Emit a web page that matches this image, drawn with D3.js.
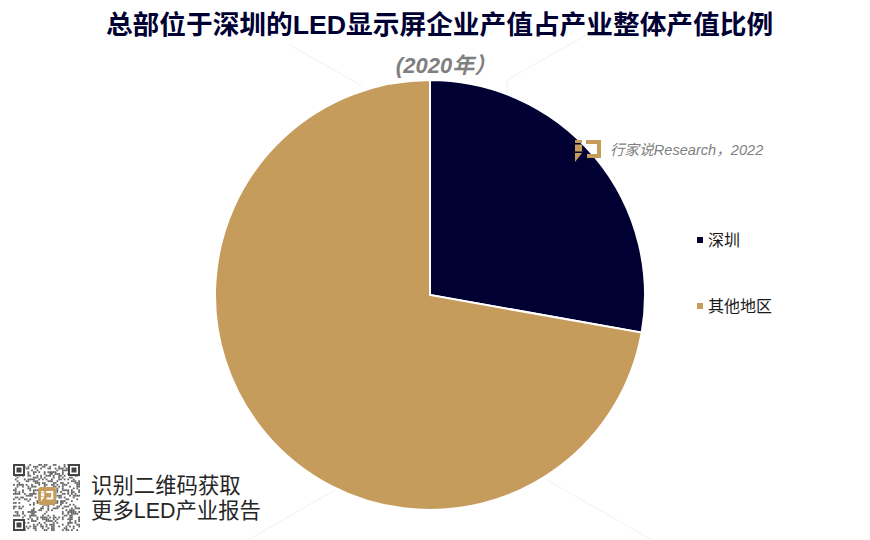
<!DOCTYPE html>
<html>
<head>
<meta charset="utf-8">
<script src="https://cdnjs.cloudflare.com/ajax/libs/d3/7.8.5/d3.min.js"></script>
<style>
    html, body { margin: 0; padding: 0; background: #fff; }
    svg { display: block; }
    text { font-family: "Liberation Sans", "Noto Sans CJK SC", sans-serif; }
</style>
</head>
<body>
<svg id="chart"></svg>
<script>
const categories = ["深圳", "其他地区"];
const shares = [27.8, 72.2];
const sliceColors = ["#000033", "#C69C5D"];
const titleText = "总部位于深圳的LED显示屏企业产值占产业整体产值比例";
const subtitleText = "(2020年）";
const sourceText = "行家说Research，2022";
const qrLines = ["识别二维码获取", "更多LED产业报告"];

const width = 870;
const height = 540;
const svg = d3.select("#chart").attr("width", width).attr("height", height);

const defs = svg.append("defs");
defs.append("filter").attr("id", "soft")
    .append("feGaussianBlur").attr("stdDeviation", 0.35);

// faint watermark lines behind the pie
const watermark = [
    [[290, 45], [362, 86]],
    [[507, 80], [590, 33]],
    [[507, 80], [507, 97]],
    [[248, 540], [335, 490]],
    [[547, 480], [652, 540]]
];
svg.append("g").selectAll("line")
    .data(watermark)
    .enter().append("line")
    .attr("x1", d => d[0][0]).attr("y1", d => d[0][1])
    .attr("x2", d => d[1][0]).attr("y2", d => d[1][1])
    .attr("stroke", "#f0f0f0")
    .attr("stroke-width", 1);

// pie
const pie = d3.pie().sort(null)(shares);
const arc = d3.arc().innerRadius(0).outerRadius(215);
svg.append("g")
    .attr("transform", "translate(430,295)")
    .selectAll("path")
    .data(pie)
    .enter().append("path")
    .attr("d", arc)
    .attr("fill", (d, i) => sliceColors[i])
    .attr("stroke", "#fff")
    .attr("stroke-width", 2);

// title
svg.append("text")
    .attr("x", 439.5).attr("y", 34)
    .attr("text-anchor", "middle")
    .attr("font-size", 26.7)
    .attr("font-weight", "bold")
    .attr("fill", "#000033")
    .text(titleText);

svg.append("text")
    .attr("x", 446).attr("y", 73)
    .attr("text-anchor", "middle")
    .attr("font-size", 22)
    .attr("font-weight", "bold")
    .attr("font-style", "italic")
    .attr("fill", "#7f7f7f")
    .text(subtitleText);

// legend
const legendY = d3.scalePoint().domain(categories).range([240, 306]);
const legend = svg.append("g").selectAll("g")
    .data(categories)
    .enter().append("g")
    .attr("transform", d => `translate(697,${legendY(d)})`);
legend.append("rect")
    .attr("x", 0).attr("y", -3)
    .attr("width", 6).attr("height", 6)
    .attr("fill", (d, i) => sliceColors[i]);
legend.append("text")
    .attr("x", 11).attr("y", 6)
    .attr("font-size", 16)
    .attr("fill", "#1a1a1a")
    .text(d => d);

// "iコ" logo, used on the pie edge and inside the qr code
function drawLogo(g, color, s) {
    g.append("rect").attr("width", 7 * s).attr("height", 3 * s).attr("fill", color);
    g.append("rect").attr("y", 4.5 * s).attr("width", 7 * s).attr("height", 7 * s).attr("fill", color);
    g.append("path")
        .attr("d", `M0 ${13 * s}h${7 * s}l${-7 * s} ${9 * s}z`)
        .attr("fill", color);
    g.append("path")
        .attr("d", `M${11 * s} 0h${15 * s}v${18 * s}h${-14 * s}v${-4 * s}h${10 * s}v${-10 * s}h${-11 * s}z`)
        .attr("fill", color);
}
drawLogo(svg.append("g").attr("transform", "translate(575,140)"), "#C69C5D", 1);

svg.append("text")
    .attr("x", 610).attr("y", 155)
    .attr("font-size", 14.6)
    .attr("font-style", "italic")
    .attr("fill", "#7f7f7f")
    .text(sourceText);

// qr code block, modules are only decoration
const qr = svg.append("g").attr("transform", "translate(13,464)");
const qrSize = 67;
const qrCount = 37;
const cell = qrSize / qrCount;
const cells = d3.range(qrCount * qrCount).map(i => ({ col: i % qrCount, row: Math.floor(i / qrCount), on: ((i * 7919) ^ (i * i * 31)) % 5 < 2 }));
const modules = qr.append("g").attr("filter", "url(#soft)");
modules.selectAll("rect")
    .data(cells.filter(d => d.on))
    .enter().append("rect")
    .attr("x", d => d.col * cell).attr("y", d => d.row * cell)
    .attr("width", cell).attr("height", cell)
    .attr("fill", "#666");
[[0, 0], [qrSize - 12, 0], [0, qrSize - 12]].forEach(p => {
    qr.append("rect").attr("x", p[0]).attr("y", p[1]).attr("width", 12).attr("height", 12).attr("fill", "#fff");
    qr.append("rect").attr("x", p[0] + 1).attr("y", p[1] + 1).attr("width", 10).attr("height", 10)
        .attr("fill", "none").attr("stroke", "#444").attr("stroke-width", 2);
    qr.append("rect").attr("x", p[0] + 3.5).attr("y", p[1] + 3.5).attr("width", 5).attr("height", 5).attr("fill", "#444");
});
qr.append("rect").attr("x", 25).attr("y", 23).attr("width", 18).attr("height", 18).attr("rx", 3).attr("fill", "#C69C5D");
drawLogo(qr.append("g").attr("transform", "translate(28,27)"), "#fff", 0.47);

svg.append("g").selectAll("text")
    .data(qrLines)
    .enter().append("text")
    .attr("x", 91).attr("y", (d, i) => 493 + i * 25)
    .attr("font-size", 21.4)
    .attr("fill", "#262626")
    .text(d => d);
</script>
</body>
</html>
